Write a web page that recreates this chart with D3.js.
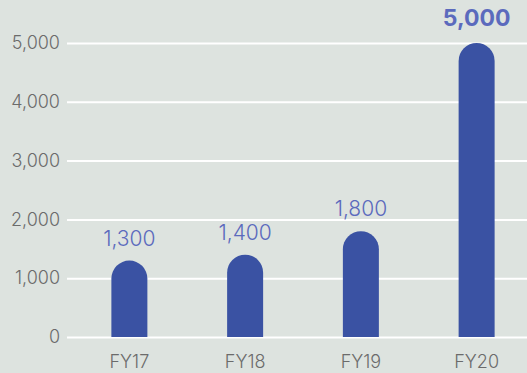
<!DOCTYPE html>
<html>
<head>
<meta charset="utf-8">
<script src="https://cdn.jsdelivr.net/npm/d3@7"></script>
<style>
  html, body { margin: 0; padding: 0; background: #dde3df; }
  svg { display: block; }
</style>
</head>
<body>
<svg id="chart" width="527" height="373"></svg>
<script>
// Fiscal-year totals
const categories = ["FY17", "FY18", "FY19", "FY20"];
const values = [1300, 1400, 1800, 5000];
const yTicks = [0, 1000, 2000, 3000, 4000, 5000];
const highlight = ["FY20"];

const W = 527, H = 373;
const svg = d3.select("#chart");
const font = "Inter, Lato, sans-serif";

svg.append("rect").attr("width", W).attr("height", H).attr("fill", "#dde3df");

const y = d3.scaleLinear().domain([0, 5000]).range([337, 43]);
const x = d3.scaleBand().domain(categories).range([71.5, 534.5]).paddingInner(0.69).paddingOuter(0.345);

// Horizontal grid lines with left-hand tick labels
const yAxis = d3.axisLeft(y).tickValues(yTicks).tickFormat(d3.format(",")).tickSize(-(W - 67)).tickPadding(7);
const gy = svg.append("g").attr("transform", "translate(67,0)").call(yAxis);
gy.select(".domain").remove();
gy.selectAll(".tick line").attr("stroke", "#ffffff").attr("stroke-width", 2);
gy.selectAll(".tick text").attr("fill", "#6b6b6b").attr("font-family", font)
  .attr("font-size", 18).attr("font-weight", 300);

// Bars with a fully rounded top
const bw = 36;
const r = bw / 2;
svg.append("g").selectAll("path").data(categories).join("path")
  .attr("fill", "#3a52a3")
  .attr("d", (c, i) => {
    const cx = x(c) + x.bandwidth() / 2;
    const x0 = cx - bw / 2, x1 = cx + bw / 2;
    const top = y(values[i]);
    const base = y(0);
    return `M${x0},${base} L${x0},${top + r} A${r},${r} 0 0 1 ${x1},${top + r} L${x1},${base} Z`;
  });

// Value labels above the bars
svg.append("g").selectAll("text").data(categories).join("text")
  .attr("x", c => x(c) + x.bandwidth() / 2)
  .attr("y", (c, i) => y(values[i]) - (highlight.includes(c) ? 17 : 15))
  .attr("text-anchor", "middle")
  .attr("fill", "#5b6abd")
  .attr("font-family", font)
  .attr("font-size", c => highlight.includes(c) ? 23 : 21)
  .attr("font-weight", c => highlight.includes(c) ? 700 : 300)
  .text((c, i) => d3.format(",")(values[i]));

// Category axis labels
const xAxis = d3.axisBottom(x).tickSize(0).tickPadding(18);
const gx = svg.append("g").attr("transform", "translate(0,337)").call(xAxis);
gx.select(".domain").remove();
gx.selectAll(".tick text").attr("fill", "#6b6b6b").attr("font-family", font)
  .attr("font-size", 18).attr("font-weight", 300);
</script>
</body>
</html>
